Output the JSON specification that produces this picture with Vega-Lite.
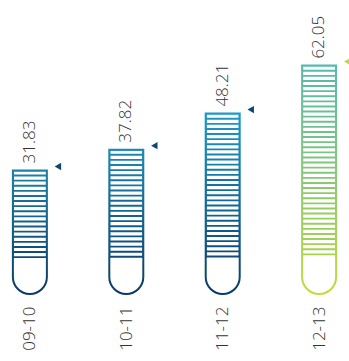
{
  "$schema": "https://vega.github.io/schema/vega-lite/v6.json",
  "width": 349,
  "height": 295,
  "autosize": "none",
  "padding": {"left": 0, "top": 0, "right": 0, "bottom": 66},
  "background": "white",
  "config": {"view": {"stroke": null}},
  "data": {"values": [
    {"period": "09-10", "value": 31.83},
    {"period": "10-11", "value": 37.82},
    {"period": "11-12", "value": 48.21},
    {"period": "12-13", "value": 62.05}
  ]},
  "encoding": {
    "x": {
      "field": "period", "type": "ordinal",
      "scale": {"type": "point", "padding": 0.31},
      "axis": {"title": null, "domain": false, "ticks": false, "labelAngle": -90, "labelFontSize": 17, "labelFont": "Open Sans", "labelFontWeight": 300, "labelColor": "#333333", "labelPadding": 11}
    },
    "y": {"field": "value", "type": "quantitative", "scale": {"domain": [-4.09, 80.97], "nice": false, "zero": false}, "axis": null}
  },
  "layer": [
    {
      "mark": {"type": "bar", "width": 34, "strokeWidth": 0},
      "encoding": {
        "y2": {"datum": 6.57},
        "fill": {
          "condition": [
            {"test": "datum.period === '12-13'", "value": {"gradient": "linear", "x1": 0, "y1": 1, "x2": 0, "y2": 0, "stops": [{"offset": 0, "color": "#a9d24c"}, {"offset": 1, "color": "#56b9ad"}]}},
            {"test": "datum.period === '11-12'", "value": {"gradient": "linear", "x1": 0, "y1": 1, "x2": 0, "y2": 0, "stops": [{"offset": 0, "color": "#0e4a78"}, {"offset": 1, "color": "#1c9ac8"}]}},
            {"test": "datum.period === '10-11'", "value": {"gradient": "linear", "x1": 0, "y1": 1, "x2": 0, "y2": 0, "stops": [{"offset": 0, "color": "#0e4a78"}, {"offset": 1, "color": "#1e89b2"}]}}
          ],
          "value": {"gradient": "linear", "x1": 0, "y1": 1, "x2": 0, "y2": 0, "stops": [{"offset": 0, "color": "#0e4a78"}, {"offset": 1, "color": "#1f80a6"}]}
        }
      }
    },
    {
      "mark": {"type": "rule", "strokeWidth": 32, "stroke": "white", "strokeDash": [3.2, 1.9], "strokeDashOffset": 4.1, "strokeCap": "butt"},
      "encoding": {"y2": {"datum": 6.57}}
    },
    {
      "mark": {"type": "bar", "width": 34, "fill": "transparent", "strokeWidth": 2, "cornerRadiusBottomLeft": 17, "cornerRadiusBottomRight": 17},
      "encoding": {
        "y2": {"datum": -3.81},
        "stroke": {
          "condition": [
            {"test": "datum.period === '12-13'", "value": {"gradient": "linear", "x1": 0, "y1": 1, "x2": 0, "y2": 0, "stops": [{"offset": 0, "color": "#c3db3a"}, {"offset": 1, "color": "#56b9ad"}]}},
            {"test": "datum.period === '11-12'", "value": {"gradient": "linear", "x1": 0, "y1": 1, "x2": 0, "y2": 0, "stops": [{"offset": 0, "color": "#0b3a66"}, {"offset": 1, "color": "#1c9ac8"}]}},
            {"test": "datum.period === '10-11'", "value": {"gradient": "linear", "x1": 0, "y1": 1, "x2": 0, "y2": 0, "stops": [{"offset": 0, "color": "#0b3a66"}, {"offset": 1, "color": "#1e89b2"}]}}
          ],
          "value": {"gradient": "linear", "x1": 0, "y1": 1, "x2": 0, "y2": 0, "stops": [{"offset": 0, "color": "#0b3a66"}, {"offset": 1, "color": "#1f80a6"}]}
        }
      }
    },
    {
      "mark": {"type": "point", "shape": "triangle-left", "filled": true, "size": 55, "opacity": 1, "xOffset": 28, "yOffset": -4},
      "encoding": {
        "color": {"condition": {"test": "datum.period === '12-13'", "value": "#bfd843"}, "value": "#0c4676"}
      }
    },
    {
      "mark": {"type": "text", "angle": 270, "align": "left", "baseline": "middle", "dx": 7, "font": "Open Sans", "fontWeight": 300, "fontSize": 17, "fill": "#333333"},
      "encoding": {"text": {"field": "value", "type": "quantitative", "format": ".2f"}}
    }
  ]
}
